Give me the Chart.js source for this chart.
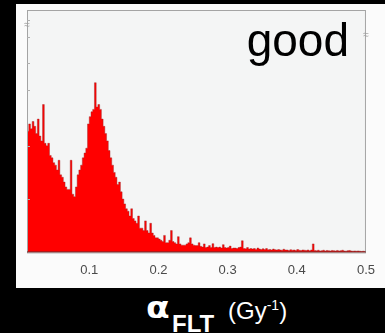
<!DOCTYPE html>
<html>
<head>
<meta charset="utf-8">
<script src="https://cdn.jsdelivr.net/npm/chart.js@4.4.1/dist/chart.umd.min.js"></script>
<style>
  html, body { margin: 0; background: #000; }
  #wrap { position: relative; width: 385px; height: 333px; overflow: hidden; background: #000; }
  #hist { position: absolute; left: 16px; top: 4px; background: #fbfbfb; }
  .lbl { position: absolute; color: #fff; font-family: "Liberation Sans", Arial, sans-serif; line-height: 1; white-space: nowrap; }
  #alpha { left: 146px; top: 293px; font-family: "DejaVu Sans", sans-serif; font-size: 30px; font-weight: 700; transform: scaleX(1.15); transform-origin: left; }
  #sub { left: 172px; top: 312px; font-size: 24px; font-weight: 700; }
  #unit { left: 228px; top: 299px; font-size: 24px; }
  #unit sup { font-size: 14px; vertical-align: 0; position: relative; top: -9px; }
</style>
</head>
<body>
<div id="wrap">
  <canvas id="hist" width="369" height="284"></canvas>
  <span class="lbl" id="alpha">α</span>
  <span class="lbl" id="sub">FLT</span>
  <span class="lbl" id="unit">(Gy<sup>-1</sup>)</span>
</div>
<script>
// histogram of alpha_FLT, bins of 0.0025 starting at 0.01
const binStart = 0.01;
const binWidth = 0.0025;
const counts = [
  50, 53, 51, 54, 52, 49, 55, 48, 46, 61,
  45, 44, 45, 40, 39, 37, 36, 34, 38, 32,
  31, 29, 27, 26, 26, 38, 24, 23, 27, 32,
  34, 36, 39, 41, 43, 53, 56, 58, 59, 70,
  60, 61, 59, 55, 52, 49, 46, 42, 39, 36,
  33, 31, 28, 29, 25, 22, 20, 18, 17, 15,
  18, 14, 13, 12, 15, 10, 10, 9, 13, 9,
  8, 12, 8, 7, 6, 6, 5.5, 5, 4.5, 7,
  4, 4, 5, 9, 4.5, 4, 3.5, 6.5, 3.5, 3,
  3, 3, 3.5, 4, 6, 3.5, 3, 2.8, 2.8, 4,
  2.5, 2.2, 3.5, 2, 2.2, 2.8, 2, 3.6, 2, 2.2,
  2, 2.2, 1.8, 3.2, 2, 1.8, 2, 2.6, 1.6, 1.8,
  1.8, 1.6, 2, 2.2, 4.8, 1.6, 1.5, 2, 1.4, 1.6,
  1.4, 1.6, 1.2, 1.8, 1.4, 1.2, 1.5, 1.2, 1.6, 1.1,
  1.2, 1, 1.4, 1.1, 1, 1.2, 1, 0.9, 1.3, 1,
  1, 0.8, 1.1, 0.9, 1, 0.8, 1.2, 0.9, 0.8, 1,
  0.9, 0.8, 1, 0.7, 1, 3.5, 0.8, 0.7, 0.9, 0.6,
  0.7, 0.9, 0.6, 0.8, 0.7, 0.6, 0.8, 0.7, 0.6, 0.8,
  0.6, 0.7, 0.9, 0.6, 0.5, 0.7, 0.8, 0.6, 0.5, 0.6,
  0.5, 0.6, 0.5, 0.4, 0.5, 0.4,
];
const xTicks = [0.1, 0.2, 0.3, 0.4, 0.5];
const yMarks = [22, 44, 67, 78, 89, 96];
const panelText = 'good';

const points = counts.map((c, i) => ({ x: binStart + (i + 0.5) * binWidth, y: c }));

const boxPlugin = {
  id: 'hist-box',
  beforeDraw(chart) {
    const { ctx, chartArea: a } = chart;
    ctx.save();
    ctx.fillStyle = '#f4f5f5';
    ctx.fillRect(a.left, a.top, a.right - a.left, a.bottom - a.top);
    ctx.restore();
  },
  afterDatasetsDraw(chart) {
    const { ctx, chartArea: a } = chart;
    const y = chart.scales.y;
    ctx.save();
    ctx.strokeStyle = '#a4a4a4';
    ctx.lineWidth = 1;
    ctx.strokeRect(a.left + 0.5, a.top + 0.5, a.right - a.left - 1, a.bottom - a.top);
    // baseline under the bars
    ctx.strokeStyle = '#7a2a2a';
    ctx.beginPath();
    ctx.moveTo(a.left, a.bottom - 0.5);
    ctx.lineTo(a.right, a.bottom - 0.5);
    ctx.stroke();
    // short inner ticks on the left axis
    ctx.strokeStyle = '#b0b0b0';
    for (const v of yMarks) {
      const py = Math.round(y.getPixelForValue(v)) + 0.5;
      ctx.beginPath();
      ctx.moveTo(a.left, py);
      ctx.lineTo(a.left + 3, py);
      ctx.stroke();
    }
    // little break marks on the axes
    ctx.fillStyle = '#a0a0a0';
    ctx.font = '10px "Liberation Sans", Arial, sans-serif';
    ctx.textAlign = 'center';
    ctx.textBaseline = 'middle';
    ctx.fillText('≈', a.right, a.top + 25);
    ctx.fillText('≈', a.left, a.top + 15);
    ctx.fillStyle = '#000';
    ctx.font = '46px "Liberation Sans", Arial, sans-serif';
    ctx.textAlign = 'right';
    ctx.textBaseline = 'alphabetic';
    ctx.fillText(panelText, a.right - 17, a.top + 46);
    ctx.restore();
  },
};

new Chart(document.getElementById('hist'), {
  type: 'line',
  data: {
    datasets: [{
      data: points,
      parsing: false,
      stepped: 'middle',
      fill: 'origin',
      backgroundColor: '#ff0000',
      borderColor: 'rgba(160,40,40,0.55)',
      borderWidth: 0.8,
      pointRadius: 0,
    }],
  },
  options: {
    responsive: false,
    animation: false,
    devicePixelRatio: 1,
    layout: { padding: { left: 11, top: 6, right: 17, bottom: 0 } },
    scales: {
      x: {
        type: 'linear', min: 0.01, max: 0.5,
        afterBuildTicks: (s) => { s.ticks = xTicks.map(v => ({ value: v })); },
        grid: { display: false, drawTicks: false },
        border: { display: false },
        ticks: {
          padding: 10, color: '#4a4a4a',
          font: { family: '"Liberation Sans", Arial, sans-serif', size: 13 },
          callback: v => v.toFixed(1),
          maxRotation: 0,
        },
      },
      y: { min: 0, max: 100, display: false },
    },
    plugins: { legend: { display: false }, tooltip: { enabled: false } },
  },
  plugins: [boxPlugin],
});
</script>
</body>
</html>
